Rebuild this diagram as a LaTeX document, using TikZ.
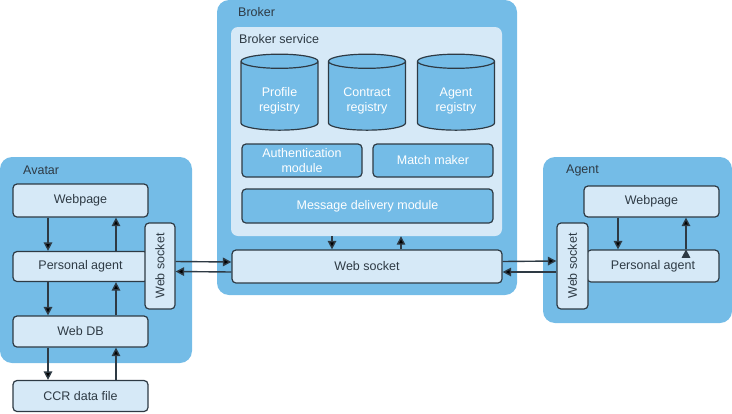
\documentclass[tikz,border=0pt]{standalone}
\usepackage{fontspec}
\setmainfont{Liberation Sans}
\usetikzlibrary{arrows.meta,shapes.geometric}

\definecolor{outerblue}{HTML}{74BCE7}
\definecolor{paleblue}{HTML}{D6E9F7}
\definecolor{edgegrey}{HTML}{2E3A44}

\tikzset{
  group/.style={rectangle,fill=outerblue,rounded corners=12pt,inner sep=0pt},
  service/.style={rectangle,fill=paleblue,rounded corners=7pt,inner sep=0pt},
  box/.style={rectangle,draw=edgegrey,line width=1.2pt,fill=paleblue,rounded corners=4pt,
    text=edgegrey,inner sep=0pt,font=\fontsize{12.5}{14.5}\selectfont},
  module/.style={box,fill=outerblue,text=white,align=center},
  registry/.style={cylinder,shape border rotate=90,aspect=0.3,draw=edgegrey,line width=1.2pt,
    fill=outerblue,inner sep=0pt,minimum width=77pt,minimum height=76pt,align=center,
    font=\fontsize{12.5}{15}\selectfont},
  regtext/.style={text=white,align=center,yshift=-5pt,font=\fontsize{12.5}{15}\selectfont},
  title/.style={anchor=west,text=edgegrey,inner sep=0pt,font=\fontsize{12.5}{14.5}\selectfont},
  link/.style={-{Triangle[length=8.5pt,width=8.5pt]},line width=1.4pt,draw=edgegrey}
}
\newcommand{\regbody}{\phantom{Contract}\\\phantom{registry}}

\begin{document}
\begin{tikzpicture}[x=1pt,y=-1pt]
  \useasboundingbox (0,0) rectangle (732,413);

  % groups
  \node[group,minimum width=192pt,minimum height=206pt] (avatar) at (96,260) {};
  \node[group,minimum width=300pt,minimum height=295pt] (broker) at (367,147.5) {};
  \node[group,minimum width=189pt,minimum height=166pt] (agent) at (637.5,240) {};
  \node[service,minimum width=271pt,minimum height=209pt] (service) at (366.5,131.5) {};

  \node[title] (avatarT) at (23,170) {Avatar};
  \node[title] (brokerT) at (238,12) {Broker};
  \node[title] (serviceT) at (239,39) {Broker service};
  \node[title] (agentT) at (566,170) {Agent};

  % avatar side
  \node[box,minimum width=135pt,minimum height=33pt] (avWeb) at (80.5,200.5) {Webpage};
  \node[box,minimum width=135pt,minimum height=30pt] (avPA) at (80.5,266.5) {Personal agent};
  \node[box,minimum width=135pt,minimum height=31pt] (avDB) at (80.5,331.5) {Web DB};
  \node[box,minimum width=135pt,minimum height=31pt] (avCCR) at (80.5,396) {CCR data file};
  \node[box,rotate=90,minimum width=86pt,minimum height=30pt] (avSock) at (160,266) {Web socket};

  % broker
  \node[registry,label={[regtext]center:{Profile\\registry}}] (profile) at (279.5,96) {\regbody};
  \node[registry,label={[regtext]center:{Contract\\registry}}] (contract) at (367,96) {\regbody};
  \node[registry,label={[regtext]center:{Agent\\registry}}] (agentreg) at (456,96) {\regbody};
  \node[module,minimum width=120pt,minimum height=33pt] (auth) at (302,160.5) {Authentication\\module};
  \node[module,minimum width=120pt,minimum height=33pt] (match) at (433,160.5) {Match maker};
  \node[module,minimum width=251pt,minimum height=34pt] (msg) at (367.5,206) {Message delivery module};
  \node[box,minimum width=270pt,minimum height=33pt] (brSock) at (367,266.5) {Web socket};

  % agent side
  \node[box,minimum width=135pt,minimum height=31pt] (agWeb) at (651.5,201.5) {Webpage};
  \node[box,minimum width=132pt,minimum height=32pt] (agPA) at (653,266) {Personal agent};
  \node[box,rotate=90,minimum width=86pt,minimum height=31pt] (agSock) at (572.5,266) {Web socket};

  % links
  \path[link]
    ([xshift=-32.5pt]avWeb.south) edge ([xshift=-32.5pt]avPA.north)
    ([xshift=35.5pt]avPA.north) edge ([xshift=35.5pt]avWeb.south)
    ([xshift=-32.5pt]avPA.south) edge ([xshift=-32.5pt]avDB.north)
    ([xshift=35.5pt]avDB.north) edge ([xshift=35.5pt]avPA.south)
    ([xshift=-32.5pt]avDB.south) edge ([xshift=-32.5pt]avCCR.north)
    ([xshift=35.5pt]avCCR.north) edge ([xshift=35.5pt]avDB.south)
    ([xshift=-34.5pt]service.south) edge ([xshift=-35pt]brSock.north)
    ([xshift=34pt]brSock.north) edge ([xshift=34.5pt]service.south)
    ([yshift=4.5pt]avSock.south) edge ([yshift=4.5pt]brSock.west)
    ([yshift=-5.5pt]brSock.west) edge ([yshift=-5.5pt]avSock.south)
    ([yshift=5pt]brSock.east) edge ([yshift=5pt]agSock.north)
    ([yshift=-6pt]agSock.north) edge ([yshift=-5.5pt]brSock.east)
    ([xshift=-33.5pt]agWeb.south) edge ([xshift=-35pt]agPA.north)
    ([xshift=33pt]agPA.north) edge ([xshift=34.5pt]agWeb.south);
\end{tikzpicture}
\end{document}
